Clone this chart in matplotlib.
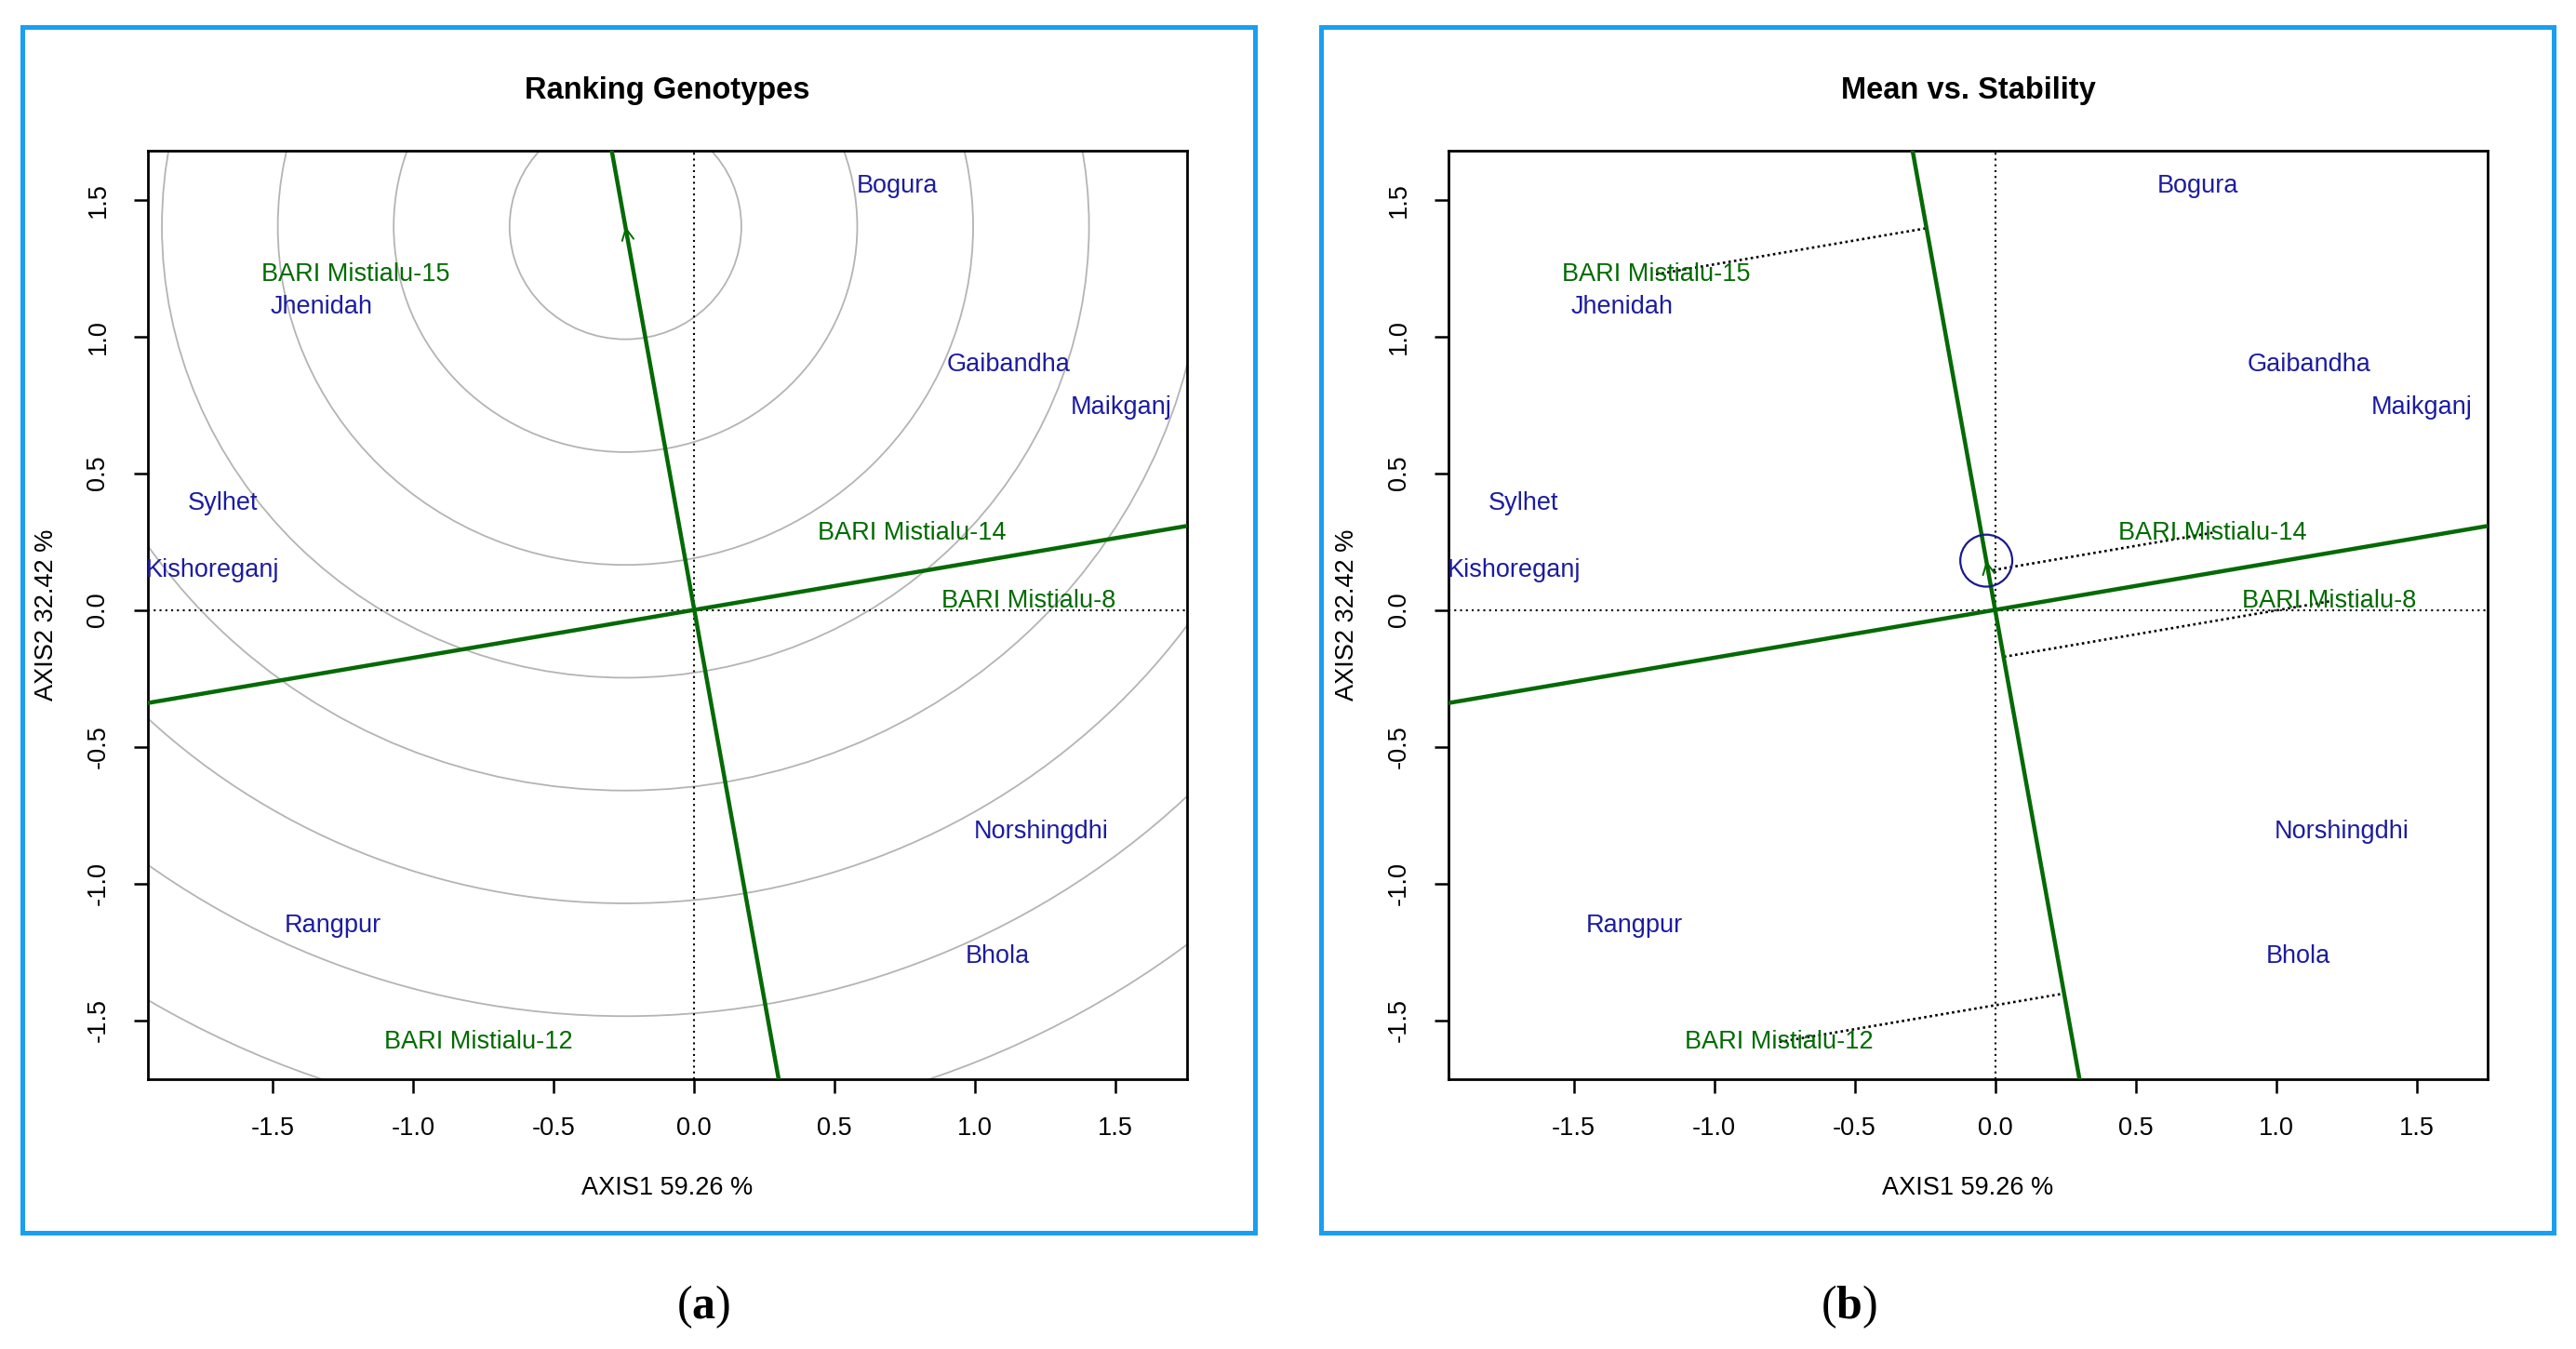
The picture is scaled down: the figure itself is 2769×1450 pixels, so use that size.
import numpy as np
import matplotlib
matplotlib.use('Agg')
import matplotlib.pyplot as plt
from matplotlib.patches import Rectangle, Ellipse

plt.rcParams['font.family'] = ['Liberation Sans', 'DejaVu Sans']
plt.rcParams['mathtext.fontset'] = 'custom'
plt.rcParams['mathtext.bf'] = 'Liberation Serif:bold'
plt.rcParams['mathtext.rm'] = 'Liberation Serif'

# genotypes (green) and environments (blue), biplot scores
gen_names = ['BARI Mistialu-15', 'BARI Mistialu-14', 'BARI Mistialu-8', 'BARI Mistialu-12']
gen_x = [-1.207, 0.774, 1.189, -0.768]
gen_y = [1.227, 0.282, 0.031, -1.580]

env_names = ['Bogura', 'Jhenidah', 'Gaibandha', 'Maikganj', 'Sylhet', 'Kishoreganj',
             'Norshingdhi', 'Rangpur', 'Bhola']
env_x = [0.721, -1.327, 1.118, 1.520, -1.678, -1.714, 1.234, -1.285, 1.080]
env_y = [1.548, 1.106, 0.898, 0.740, 0.390, 0.145, -0.812, -1.155, -1.268]

# average environment coordinate and ideal genotype
ae_x, ae_y = -0.0315, 0.180
ideal_x, ideal_y = -0.245, 1.402
ring_step = 0.4125
n_rings = 10

xlim = (-1.946, 1.753)
ylim = (-1.716, 1.679)
ticks = [-1.5, -1.0, -0.5, 0.0, 0.5, 1.0, 1.5]

titles = ['Ranking Genotypes', 'Mean vs. Stability']
panel_tags = ['a', 'b']

GREEN = '#006b00'
BLUE = '#1c1ca0'
LINE_GREEN = '#056a05'
BOX_BLUE = '#1a9ff0'
FS = 19.5

fig = plt.figure(figsize=(27.69, 14.50), dpi=100)

arrow_style = '->,head_length=0.9,head_width=0.45'
dx_panel = 1398.3 / 2769
for i in range(2):
    off = i * dx_panel
    ax = fig.add_axes([0.0573 + off, 0.2, 0.4034, 0.6883])
    ax.set_xlim(*xlim)
    ax.set_ylim(*ylim)
    ax.set_xticks(ticks)
    ax.set_yticks(ticks)
    ax.set_xticklabels(['%.1f' % t for t in ticks])
    ax.set_yticklabels(['%.1f' % t for t in ticks], rotation=90, va='center')
    ax.tick_params(length=11, width=1.8, labelsize=FS, pad=18)
    for s in ax.spines.values():
        s.set_linewidth(2)

    ax.axhline(0, color='black', lw=1.5, ls=(0, (1, 2)), zorder=1)
    ax.axvline(0, color='black', lw=1.5, ls=(0, (1, 2)), zorder=1)

    # lines through the origin
    ax.axline((0, 0), (ae_x, ae_y), color=LINE_GREEN, lw=3.2, zorder=3)
    ax.axline((0, 0), slope=-ae_x / ae_y, color=LINE_GREEN, lw=3.2, zorder=3)

    if i == 0:
        for k in range(1, n_rings + 1):
            r = k * ring_step
            ax.add_patch(Ellipse((ideal_x, ideal_y), 2 * r, 2 * r, fill=False,
                                 ec='#b4b4b4', lw=1.3, zorder=0))
        ax.annotate('', xy=(ideal_x, ideal_y), xytext=(0, 0),
                    arrowprops=dict(arrowstyle=arrow_style, color=GREEN, lw=1.4,
                                    shrinkA=0, shrinkB=0), zorder=4)
    else:
        d = np.array([ae_x, ae_y]) / np.hypot(ae_x, ae_y)
        for gx, gy in zip(gen_x, gen_y):
            p = np.dot([gx, gy], d)
            ax.plot([gx, p * d[0]], [gy, p * d[1]], color='black', lw=1.9,
                    ls=(0, (1, 1.3)), zorder=2)
        ax.add_patch(Ellipse((ae_x, ae_y), 0.185, 0.19, fill=False,
                             ec='#1a1a8c', lw=1.6, zorder=5))
        ax.annotate('', xy=(ae_x, ae_y), xytext=(0, 0),
                    arrowprops=dict(arrowstyle=arrow_style, color=GREEN, lw=1.4,
                                    shrinkA=0, shrinkB=0), zorder=4)

    for n, x, y in zip(gen_names, gen_x, gen_y):
        ax.text(x, y, n, color=GREEN, fontsize=FS, ha='center', va='center', zorder=6)
    for n, x, y in zip(env_names, env_x, env_y):
        ax.text(x, y, n, color=BLUE, fontsize=FS, ha='center', va='center', zorder=6)

    cx = 0.2590 + off
    fig.text(cx, 0.933, titles[i], fontsize=23.5, fontweight='bold', ha='center', va='center')
    fig.text(cx, 0.1193, 'AXIS1 59.26 %', fontsize=FS, ha='center', va='center')
    fig.text(0.0181 + off, 0.544, 'AXIS2 32.42 %', fontsize=FS, ha='center', va='center',
             rotation=90)

    fig.add_artist(Rectangle((0.00849 + [0, 0.50431][i], 0.0862), 0.4787, 0.8941,
                             transform=fig.transFigure, fill=False, ec=BOX_BLUE, lw=3.6))

fig.text(0.2730, 0.031, r'($\mathbf{a}$)', fontsize=36, ha='center', va='center',
         family='Liberation Serif')
fig.text(0.7176, 0.031, r'($\mathbf{b}$)', fontsize=36, ha='center', va='center',
         family='Liberation Serif')

fig.savefig('out.png', dpi=100)
